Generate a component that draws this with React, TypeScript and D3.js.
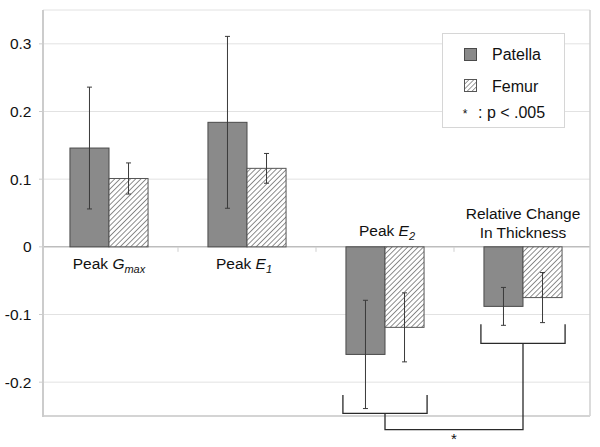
import React from "react";
import * as d3 from "d3";

const categories = ["Peak Gmax", "Peak E1", "Peak E2", "Relative Change In Thickness"];
const patella = [0.146, 0.184, -0.159, -0.088];
const patellaErr = [0.090, 0.127, 0.080, 0.028];
const femur = [0.101, 0.116, -0.119, -0.075];
const femurErr = [0.023, 0.022, 0.051, 0.037];
const yTicks = [0.3, 0.2, 0.1, 0, -0.1, -0.2];
const yTickLabels = ["0.3", "0.2", "0.1", "0", "-0.1", "-0.2"];
const brackets = [
  { cat: "Peak E2", top: -0.219, bottom: -0.246 },
  { cat: "Relative Change In Thickness", top: -0.1145, bottom: -0.1426 },
];
const linkLevel = -0.27;
const legendItems = ["Patella", "Femur"];
const sigNote = ": p < .005";

const W = 600, H = 447;
const FONT = "'Liberation Sans', Arial, Helvetica, sans-serif";

export default function App() {
  const plot = { left: 43, right: 590, top: 10, bottom: 416 };
  const y = d3.scaleLinear().domain([-0.25, 0.35]).range([plot.bottom, plot.top]);
  const x = d3.scaleBand<string>().domain(categories).range([40, 592]).paddingInner(0).paddingOuter(0);
  const bw = x.bandwidth();
  const barW = bw * 0.283;
  const cx = (c: string) => (x(c) as number) + bw / 2;
  const y0 = y(0);

  const errBar = (xc: number, v: number, e: number, key: string) => (
    <g key={key} stroke="#3a3a3a" strokeWidth={1}>
      <line x1={xc} x2={xc} y1={y(v + e)} y2={y(v - e)} />
      <line x1={xc - 2.5} x2={xc + 2.5} y1={y(v + e)} y2={y(v + e)} />
      <line x1={xc - 2.5} x2={xc + 2.5} y1={y(v - e)} y2={y(v - e)} />
    </g>
  );

  const labelFs = 15.5;
  const sub = (main: string, s: string) => (
    <>
      <tspan fontStyle="italic">{main}</tspan>
      <tspan fontStyle="italic" fontSize={11} dy={4}>{s}</tspan>
    </>
  );

  return (
    <svg width={W} height={H} style={{ position: "absolute", left: 0, top: 0, background: "#fff" }} fontFamily={FONT}>
      <defs>
        <pattern id="hatch" patternUnits="userSpaceOnUse" width={3.7} height={3.7} patternTransform="rotate(45)">
          <rect width={3.7} height={3.7} fill="#fff" />
          <line x1={0} y1={0} x2={0} y2={3.7} stroke="#7a7a7a" strokeWidth={1.7} />
        </pattern>
        <pattern id="hatchS" patternUnits="userSpaceOnUse" width={3.4} height={3.4} patternTransform="rotate(45)">
          <rect width={3.4} height={3.4} fill="#fff" />
          <line x1={0} y1={0} x2={0} y2={3.4} stroke="#7a7a7a" strokeWidth={1.5} />
        </pattern>
      </defs>
      <rect x={0} y={0} width={W} height={H} fill="#fff" />
      {yTicks.map((t) => (
        <line key={"g" + t} x1={plot.left} x2={plot.right} y1={y(t)} y2={y(t)}
          stroke={t === 0 ? "#bdbdbd" : "#e2e2e2"} strokeWidth={t === 0 ? 1.5 : 1} />
      ))}
      <line x1={plot.left} x2={plot.right} y1={plot.top} y2={plot.top} stroke="#e2e2e2" strokeWidth={1} />
      <line x1={plot.right} x2={plot.right} y1={plot.top} y2={plot.bottom} stroke="#cfcfcf" strokeWidth={1.5} />
      <line x1={plot.left} x2={plot.right} y1={plot.bottom} y2={plot.bottom} stroke="#d4d4d4" strokeWidth={2} />
      <line x1={plot.left} x2={plot.left} y1={plot.top} y2={plot.bottom + 1} stroke="#cccccc" strokeWidth={2} />
      {yTicks.map((t, i) => (
        <g key={"t" + t}>
          <line x1={plot.left - 4} x2={plot.left} y1={y(t)} y2={y(t)} stroke="#cccccc" strokeWidth={1} />
          <text x={31.5} y={y(t)} dy="0.35em" textAnchor="end" fontSize={15.5} fill="#111">{yTickLabels[i]}</text>
        </g>
      ))}
      {categories.slice(1).map((c) => (
        <line key={"xt" + c} x1={x(c) as number} x2={x(c) as number} y1={y0} y2={y0 + 5} stroke="#cfcfcf" strokeWidth={1} />
      ))}
      {categories.map((c, i) => {
        const xc = cx(c);
        return (
          <g key={c}>
            <rect x={xc - barW} width={barW} y={Math.min(y(patella[i]), y0)} height={Math.abs(y(patella[i]) - y0)}
              fill="#8a8a8a" stroke="#4a4a4a" strokeWidth={1} />
            <rect x={xc} width={barW} y={Math.min(y(femur[i]), y0)} height={Math.abs(y(femur[i]) - y0)}
              fill="url(#hatch)" stroke="#555" strokeWidth={1} />
          </g>
        );
      })}
      {categories.map((c, i) => {
        const xc = cx(c);
        return (
          <g key={"e" + c}>
            {errBar(xc - barW / 2, patella[i], patellaErr[i], "p")}
            {errBar(xc + barW / 2, femur[i], femurErr[i], "f")}
          </g>
        );
      })}
      <text x={cx(categories[0])} y={y0 + 22} textAnchor="middle" fontSize={labelFs} fill="#111">
        Peak {sub("G", "max")}
      </text>
      <text x={cx(categories[1]) - 3} y={y0 + 22} textAnchor="middle" fontSize={labelFs} fill="#111">
        Peak {sub("E", "1")}
      </text>
      <text x={cx(categories[2]) + 2} y={y0 - 11} textAnchor="middle" fontSize={labelFs} fill="#111">
        Peak {sub("E", "2")}
      </text>
      <text x={cx(categories[3])} y={y0 - 28} textAnchor="middle" fontSize={labelFs} fill="#111">Relative Change</text>
      <text x={cx(categories[3])} y={y0 - 9} textAnchor="middle" fontSize={labelFs} fill="#111">In Thickness</text>
      <g stroke="#2a2a2a" strokeWidth={1.3} fill="none">
        {brackets.map((b) => {
          const xc = cx(b.cat);
          const hw = bw * 0.305;
          return (
            <path key={b.cat}
              d={`M${xc - hw},${y(b.top)}V${y(b.bottom)}H${xc + hw}V${y(b.top)}`} />
          );
        })}
        <path d={`M${cx(brackets[0].cat)},${y(brackets[0].bottom)}V${y(linkLevel)}H${cx(brackets[1].cat)}V${y(brackets[1].bottom)}`} />
      </g>
      <text x={(cx(brackets[0].cat) + cx(brackets[1].cat)) / 2} y={y(linkLevel) + 14} textAnchor="middle" fontSize={15} fill="#111">*</text>
      <g>
        <rect x={442.5} y={33.5} width={122} height={94} fill="#fff" stroke="#d6d6d6" strokeWidth={1} />
        <rect x={464.5} y={48.5} width={12} height={12} fill="#8a8a8a" stroke="#4a4a4a" strokeWidth={1} />
        <text x={492} y={54.5} dy="0.35em" fontSize={16} fill="#111">{legendItems[0]}</text>
        <rect x={464.5} y={79.5} width={12} height={12} fill="url(#hatchS)" stroke="#555" strokeWidth={1} />
        <text x={492} y={86} dy="0.35em" fontSize={16} fill="#111">{legendItems[1]}</text>
        <text x={465} y={118} textAnchor="middle" fontSize={12} fill="#111">*</text>
        <text x={478} y={112} dy="0.35em" fontSize={16} fill="#111">{sigNote}</text>
      </g>
    </svg>
  );
}
